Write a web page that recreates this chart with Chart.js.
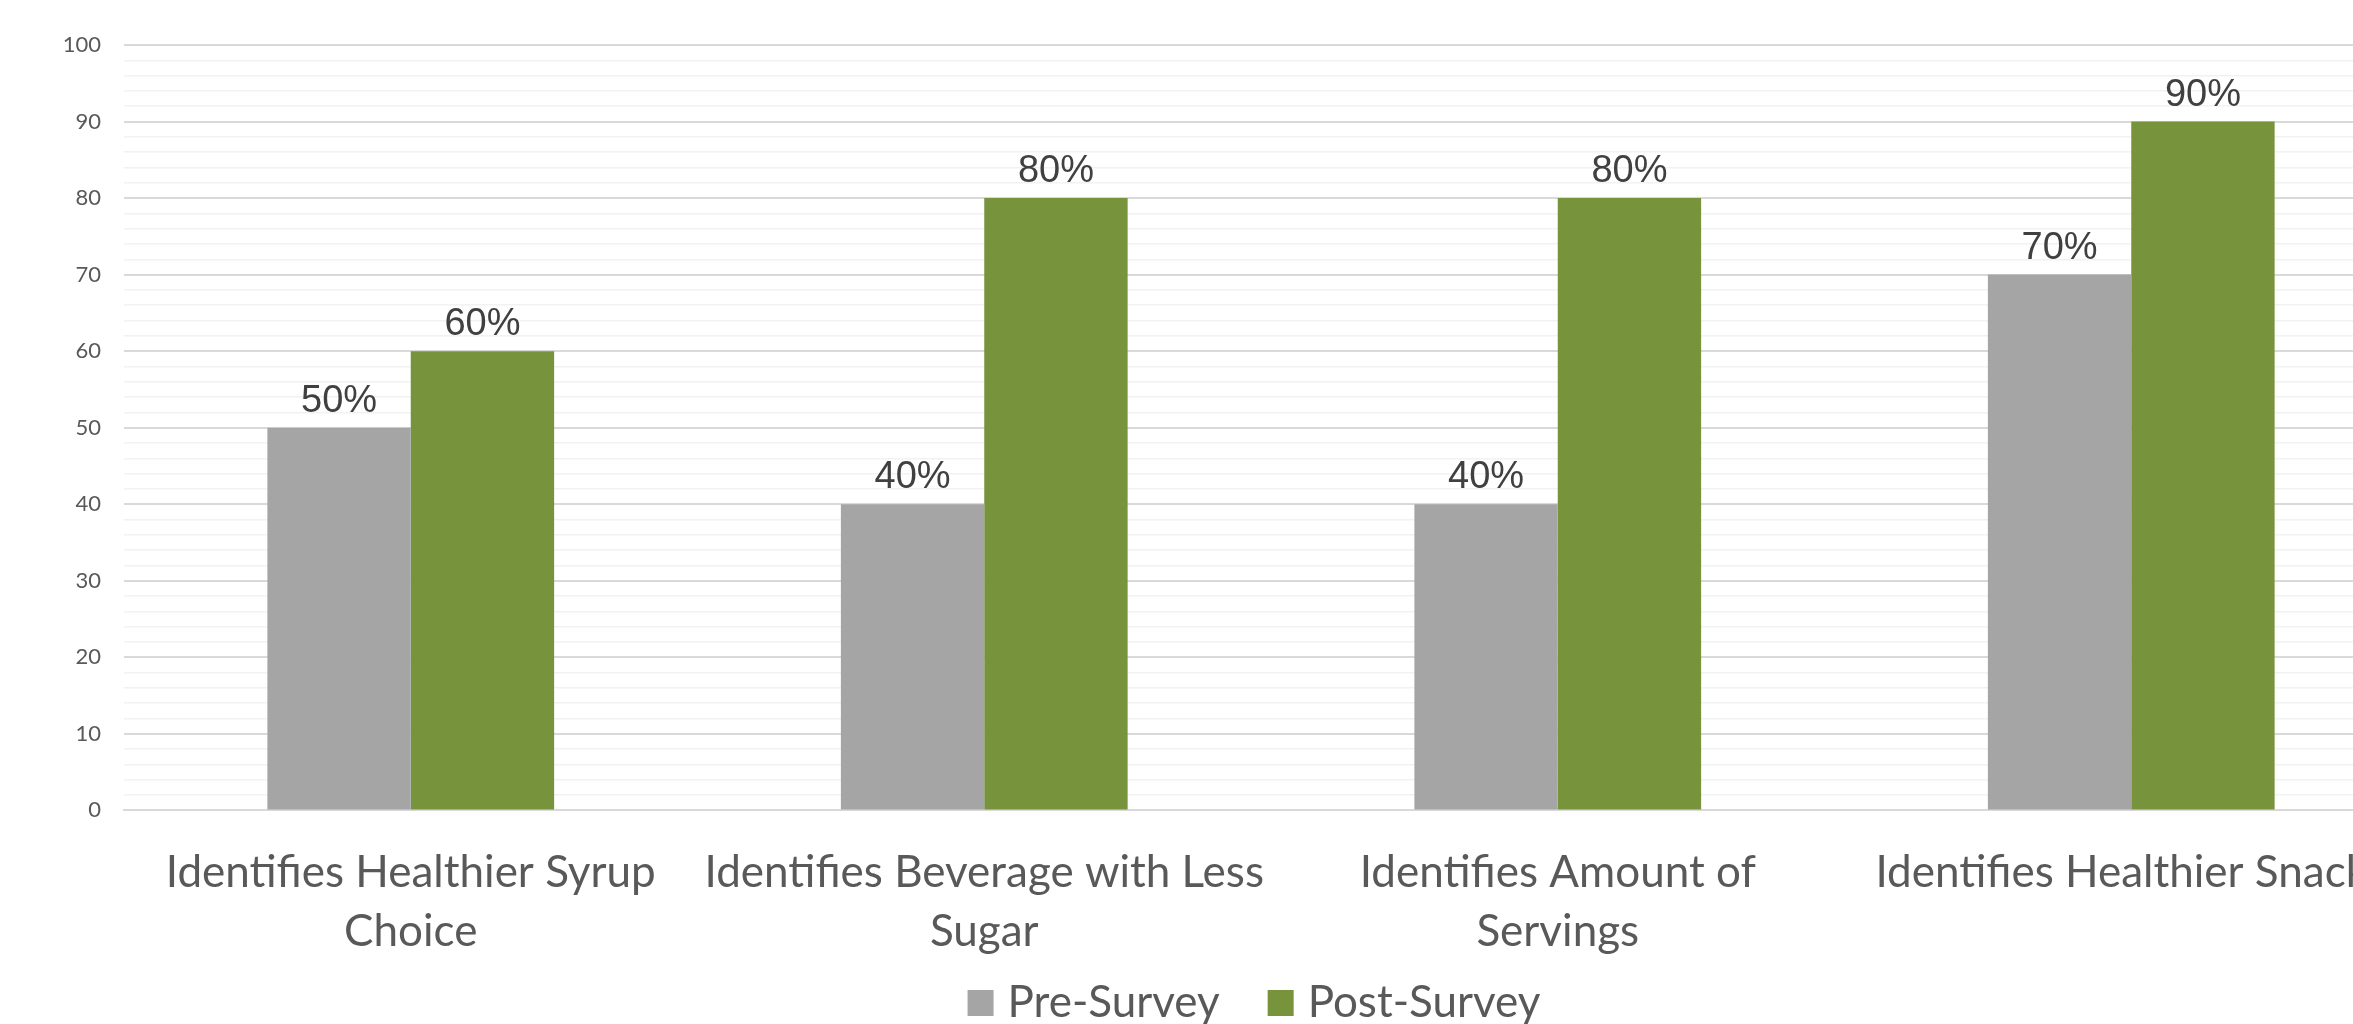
<!DOCTYPE html>
<html>
<head>
<meta charset="utf-8">
<title>Pre- and Post-Survey Results</title>
<script src="https://cdn.jsdelivr.net/npm/chart.js@4/dist/chart.umd.min.js"></script>
<style>
  html, body { margin: 0; padding: 0; background: #ffffff; overflow: hidden; }
  #wrap { position: absolute; left: 0; top: 0; }
</style>
</head>
<body>
<div id="wrap"><canvas id="chart" width="2516" height="1035"></canvas></div>
<script>
// Survey questions (multi-line axis labels)
const categories = [
  ['Identifies Healthier Syrup', 'Choice'],
  ['Identifies Beverage with Less', 'Sugar'],
  ['Identifies Amount of', 'Servings'],
  'Identifies Healthier Snacks'
];

// Share of participants answering correctly (%)
const preSurvey  = [50, 40, 40, 70];
const postSurvey = [60, 80, 80, 90];

const seriesNames = ['Pre-Survey', 'Post-Survey'];

// Y axis range and tick spacing
const yMin = 0;
const yMax = 100;
const yStep = 2;
const yLabelEvery = 10;

const LABEL_FONT = 'Lato, "Open Sans", sans-serif';

// Value labels above each bar
const barValueLabels = {
  id: 'barValueLabels',
  afterDatasetsDraw(chart) {
    const ctx = chart.ctx;
    ctx.save();
    ctx.font = '38px "Liberation Sans", Arial, sans-serif';
    ctx.fillStyle = '#404040';
    ctx.textAlign = 'center';
    ctx.textBaseline = 'alphabetic';
    chart.data.datasets.forEach((ds, di) => {
      const meta = chart.getDatasetMeta(di);
      meta.data.forEach((bar, i) => {
        ctx.fillText(ds.data[i] + '%', bar.x, bar.y - 16);
      });
    });
    ctx.restore();
  }
};

new Chart(document.getElementById('chart'), {
  type: 'bar',
  data: {
    labels: categories,
    datasets: [
      {
        label: seriesNames[0],
        data: preSurvey,
        backgroundColor: '#A5A5A5',
        borderWidth: 0,
        categoryPercentage: 0.5,
        barPercentage: 1.0
      },
      {
        label: seriesNames[1],
        data: postSurvey,
        backgroundColor: '#77933C',
        borderWidth: 0,
        categoryPercentage: 0.5,
        barPercentage: 1.0
      }
    ]
  },
  options: {
    responsive: false,
    animation: false,
    devicePixelRatio: 1,
    layout: { padding: { top: 45, left: 0, right: 0, bottom: 0 } },
    plugins: {
      tooltip: { enabled: false },
      legend: {
        position: 'bottom',
        align: 'center',
        // empty title with negative padding pulls the legend row up
        // so the wide item spacing does not push it off the bottom
        title: {
          display: true,
          text: '',
          font: { size: 1, lineHeight: 1 },
          padding: { top: -36.4, bottom: 0 }
        },
        labels: {
          usePointStyle: true,
          pointStyle: 'rect',
          boxWidth: 10,
          boxHeight: 26,
          padding: 56,
          color: '#595959',
          font: { family: LABEL_FONT, size: 44 }
        }
      }
    },
    scales: {
      x: {
        grid: { display: false, drawTicks: false },
        border: { display: true, color: '#D9D9D9', width: 2 },
        ticks: {
          color: '#595959',
          font: { family: LABEL_FONT, size: 44, lineHeight: 1.34 },
          padding: 33,
          maxRotation: 0,
          minRotation: 0,
          autoSkip: false
        },
        afterFit(axis) { axis.height = 150; }
      },
      y: {
        min: yMin,
        max: yMax,
        border: { display: false },
        grid: {
          drawTicks: false,
          color: c => (c.tick && c.tick.value % yLabelEvery === 0) ? '#D9D9D9' : '#F2F2F2',
          lineWidth: c => (c.tick && c.tick.value % yLabelEvery === 0) ? 2 : 1.5
        },
        ticks: {
          stepSize: yStep,
          autoSkip: false,
          padding: 23,
          color: '#595959',
          font: { family: LABEL_FONT, size: 22 },
          callback: v => (v % yLabelEvery === 0 ? String(v) : '')
        },
        afterFit(axis) { axis.width = 124; }
      },
      yRight: {
        type: 'linear',
        position: 'right',
        display: true,
        grid: { display: false, drawTicks: false },
        border: { display: false },
        ticks: { display: false },
        afterFit(axis) { axis.width = 98; }
      }
    }
  },
  plugins: [barValueLabels]
});
</script>
</body>
</html>
